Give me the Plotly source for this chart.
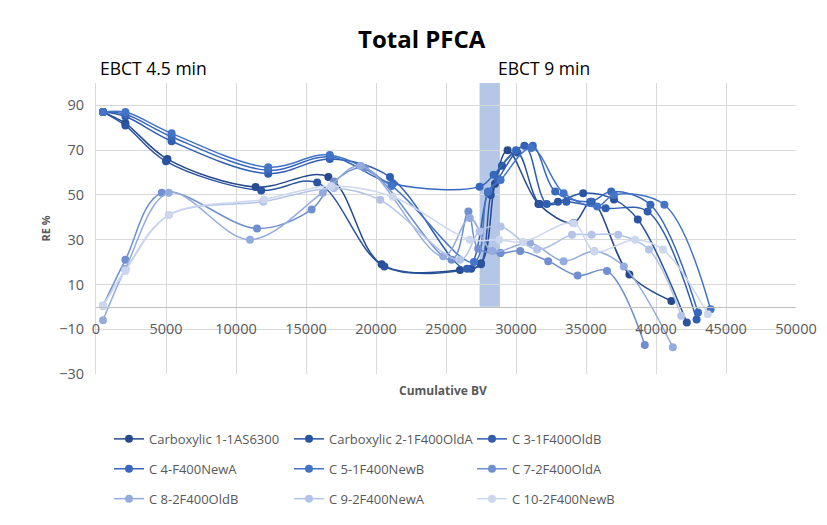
import plotly.graph_objects as go

# ---- data ----
names = ["Carboxylic 1-1AS6300", "Carboxylic 2-1F400OldA", "C 3-1F400OldB",
         "C 4-F400NewA", "C 5-1F400NewB", "C 7-2F400OldA",
         "C 8-2F400OldB", "C 9-2F400NewA", "C 10-2F400NewB"]

s1_x = [500, 2100, 5100, 11400, 16600, 20400, 26000, 27500, 28500, 29400, 31600, 34100, 35400, 38100, 41100]
s1_y = [87, 82, 66, 53.5, 58, 19, 16.5, 19.5, 55, 70, 46, 37.5, 47, 14.4, 2.6]

s2_x = [500, 2100, 5000, 11800, 15800, 20600, 26800, 27500, 28200, 29000, 30100, 31700, 33000, 34800, 37000, 38700, 42200]
s2_y = [87, 81, 65, 52, 55.5, 18, 17, 19, 50, 63, 69, 46, 47, 50.8, 48, 39, -7]

s3_x = [500, 2100, 5400, 12300, 16700, 21000, 26500, 28000, 28700, 30600, 32200, 33600, 36400, 39400, 42900]
s3_y = [87, 85, 74, 59.5, 66, 58, 17, 51, 57, 72, 46, 47, 44, 42.6, -5.6]

s4_x = [500, 2100, 5400, 12300, 16700, 21200, 27400, 28400, 30000, 31200, 32800, 35300, 36800, 39600, 43000]
s4_y = [87, 86, 76, 61, 67, 55, 53.7, 59, 70, 72, 51.5, 47, 51.5, 45.6, -2.5]

s5_x = [500, 2100, 5400, 12300, 16700, 21100, 27000, 28000, 28900, 31100, 33400, 35800, 37000, 40600, 43900]
s5_y = [87, 87, 77.5, 62.4, 67.8, 54, 20, 51.5, 56.7, 71, 50.8, 44.8, 50, 45.6, -1.1]

c7_x = [500, 2100, 4700, 11500, 15400, 17000, 19200, 25400, 26600, 27300, 28900, 30300, 32300, 34400, 36500, 39200]
c7_y = [0.5, 21, 51, 35, 43.5, 56, 62, 21, 42.6, 26, 24, 25, 20.4, 14, 16, -17]

c8_x = [500, 2100, 5200, 11000, 16200, 18900, 24800, 26700, 28300, 31000, 33400, 35600, 37700, 41200]
c8_y = [-6, 17, 51, 30, 51, 63, 22.6, 39.7, 25, 28.5, 20.4, 24.8, 18, -18]

c9_x = [500, 2100, 5200, 11950, 17000, 20300, 26000, 27400, 28900, 31500, 34000, 35400, 37300, 39500, 41800]
c9_y = [0.5, 16.5, 41, 47, 53, 47.8, 21, 33.7, 35.9, 25.6, 32.2, 32.2, 32.2, 25.6, -4]

c10_x = [500, 2100, 5200, 12000, 16800, 21200, 26700, 28800, 30500, 34100, 35600, 38500, 40500, 43700]
c10_y = [0.5, 16, 41, 48, 54, 49.2, 30, 30, 29, 37.4, 24.8, 30, 25.6, -3.3]

xs = [s1_x, s2_x, s3_x, s4_x, s5_x, c7_x, c8_x, c9_x, c10_x]
ys = [s1_y, s2_y, s3_y, s4_y, s5_y, c7_y, c8_y, c9_y, c10_y]

colors = ["#264A8C", "#2B54A0", "#305EB0", "#3868BE", "#4474C8",
          "#6F8FD0", "#93ABDD", "#B3C4E8", "#CCD7EF"]

band_x = [27400, 28850]

# legend columns (row-major order in the reference: 3 per row)
legend_ids = ["legend", "legend2", "legend3"]

# plot-area geometry in page pixels; the html body adds an 8px offset
OFF = 8
L, R, T, B = 96, 796, 82.5, 375.0
W, H = R - L, B - T
FIG_W, FIG_H = 827 - OFF, 525 - OFF


def px_x(p):
    return (p - L) / W


def px_y(p):
    return (B - p) / H


fig = go.Figure()
for i, (n, x, y, c) in enumerate(zip(names, xs, ys, colors)):
    fig.add_trace(go.Scatter(
        x=x, y=y, name=n, mode="lines+markers",
        line=dict(color=c, width=1.5, shape="spline", smoothing=1),
        marker=dict(color=c, size=8),
        legend=legend_ids[i % 3], legendgroup=f"g{i}",
    ))

fig.add_shape(type="rect", xref="x", yref="y", x0=band_x[0], x1=band_x[1], y0=0, y1=100,
              fillcolor="#B4C7E7", line=dict(width=0), layer="below")
# light chart-area frame (top/left edges visible)
fig.add_shape(type="rect", xref="paper", yref="paper", x0=px_x(5), x1=px_x(900),
              y0=px_y(600), y1=px_y(6), line=dict(color="#E3E3E3", width=1), layer="below")

FONT = "Open Sans"
GRAY = "#595959"
leg_common = dict(orientation="v", yanchor="top", xanchor="left",
                  bgcolor="rgba(0,0,0,0)", tracegroupgap=10,
                  font=dict(family=FONT, size=13, color=GRAY))
leg_y = px_y(424)

fig.update_layout(
    width=FIG_W, height=FIG_H,
    margin=dict(l=L - OFF, r=FIG_W - (R - OFF), t=T - OFF, b=FIG_H - (B - OFF)),
    paper_bgcolor="white", plot_bgcolor="white",
    font=dict(family=FONT, color=GRAY),
    showlegend=True,
    legend=dict(x=px_x(109), y=leg_y, **leg_common),
    legend2=dict(x=px_x(289), y=leg_y, **leg_common),
    legend3=dict(x=px_x(472), y=leg_y, **leg_common),
    xaxis=dict(range=[0, 50000], dtick=5000, tick0=0, tickformat="d",
               showgrid=True, gridcolor="#D9D9D9",
               anchor="free", position=30 / 130, showline=True, linecolor="#BFBFBF",
               zeroline=False, ticks="", ticklabelstandoff=9, automargin=False,
               tickfont=dict(family=FONT, size=14.5, color=GRAY)),
    yaxis=dict(range=[-30, 100], tick0=-30, dtick=20, showgrid=True, gridcolor="#D9D9D9",
               zeroline=False, showline=True, linecolor="#D9D9D9", automargin=False,
               ticklabelstandoff=8,
               tickfont=dict(family=FONT, size=14.5, color=GRAY)),
    annotations=[
        dict(text="<b>Total PFCA</b>", xref="paper", yref="paper", x=px_x(422), y=px_y(38),
             xanchor="center", yanchor="middle", showarrow=False,
             font=dict(family=FONT, size=24, color="black")),
        dict(text="EBCT 4.5 min", xref="paper", yref="paper", x=px_x(98), y=px_y(67),
             xanchor="left", yanchor="middle", showarrow=False,
             font=dict(family=FONT, size=17.5, color="black")),
        dict(text="EBCT 9 min", xref="paper", yref="paper", x=px_x(496), y=px_y(67),
             xanchor="left", yanchor="middle", showarrow=False,
             font=dict(family=FONT, size=17.5, color="black")),
        dict(text="<b>Cumulative BV</b>", xref="paper", yref="paper", x=px_x(443),
             y=px_y(392), xanchor="center", yanchor="middle", showarrow=False,
             font=dict(family=FONT, size=12, color=GRAY)),
        dict(text="<b>RE %</b>", xref="paper", yref="paper", x=px_x(45), y=0.5,
             xanchor="center", yanchor="middle", showarrow=False, textangle=-90,
             font=dict(family=FONT, size=11, color=GRAY)),
    ],
)

fig.write_html("out.html")
